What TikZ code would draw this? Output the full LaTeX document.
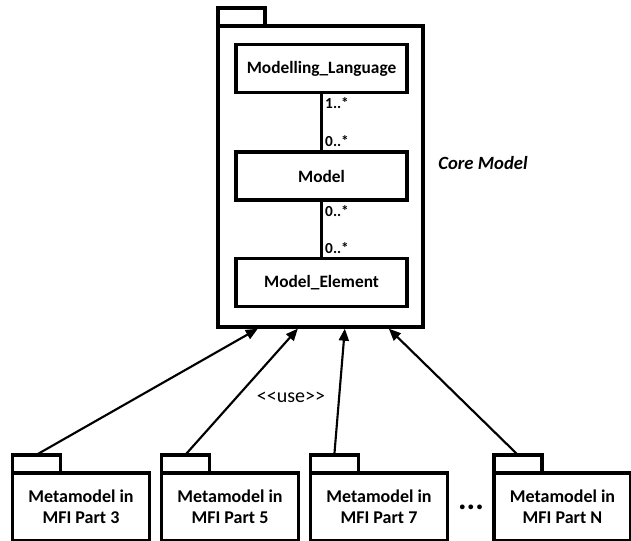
\documentclass[tikz,border=0pt]{standalone}
\usepackage{fontspec}
\setmainfont{Carlito}
\usetikzlibrary{arrows.meta,positioning}

\tikzset{
  cls/.style={draw, line width=2.5pt, minimum width=128.25pt, minimum height=36pt,
    font=\fontsize{13}{15}\selectfont\bfseries},
  pkg/.style={draw, line width=2.5pt, minimum width=102.75pt, minimum height=51pt,
    align=center, font=\fontsize{13.5}{16}\selectfont\bfseries},
  pkgline/.style={draw, line width=2.5pt},
  mult/.style={font=\fontsize{11.5}{12}\selectfont\bfseries, inner sep=2pt},
  use/.style={line width=1.6pt, -{Triangle[length=9pt,width=7.5pt]}}
}

\begin{document}
\begin{tikzpicture}[x=0.75pt, y=-0.75pt]
    \useasboundingbox (0,0) rectangle (631,540);

    % core package
    \node[pkgline, minimum width=153.75pt, minimum height=225.75pt] (core) at (320.5,176.5) {};
    \draw[pkgline] (core.north west) ++(1.5,1.5) rectangle ++(47,-18);
    \node[font=\fontsize{14}{16}\selectfont\bfseries\itshape] (corename) at (483,163) {Core Model};

    \node[cls] (ml) at (321.5,68.5) {Modelling\_Language};
    \node[cls] (model) at (321.5,176) {Model};
    \node[cls] (elem) at (321.5,282.5) {Model\_Element};

    \draw[line width=1.6pt] (ml) -- (model)
      node[mult, pos=0, below right] {1..*}
      node[mult, pos=1, above right] {0..*};
    \draw[line width=1.6pt] (model) -- (elem)
      node[mult, pos=0, below right] {0..*}
      node[mult, pos=1, above right] {0..*};

    % using packages
    \node[pkg] (p3) at (81,507) {Metamodel in\\MFI Part 3};
    \node[pkg] (p5) at (230,507) {Metamodel in\\MFI Part 5};
    \node[pkg] (p7) at (379,507) {Metamodel in\\MFI Part 7};
    \node[pkg] (pn) at (562.5,507) {Metamodel in\\MFI Part N};
    \foreach \p in {p3,p5,p7,pn} {
      \draw[pkgline] (\p.north west) ++(1.5,1.5) rectangle ++(48,-18);
      \path (\p.north west) ++(25.5,-16.5) coordinate (t\p);
    }
    \node[font=\fontsize{24}{24}\selectfont\bfseries] (dots) at (471,507) {...};

    \path (core.south west) ++(41.5,0) coordinate (u3);
    \path (core.south west) ++(81.5,0) coordinate (u5);
    \path (core.south west) ++(128.5,0) coordinate (u7);
    \path (core.south west) ++(172.5,0) coordinate (un);

    \draw[use] (tp3) -- (u3);
    \draw[use] (tp5) -- (u5);
    \draw[use] (tp7) -- (u7);
    \draw[use] (tpn) -- (un);

    \node[font=\fontsize{15}{17}\selectfont] (uselbl) at (291,397) {<\kern0pt<use>\kern0pt>};
\end{tikzpicture}
\end{document}
